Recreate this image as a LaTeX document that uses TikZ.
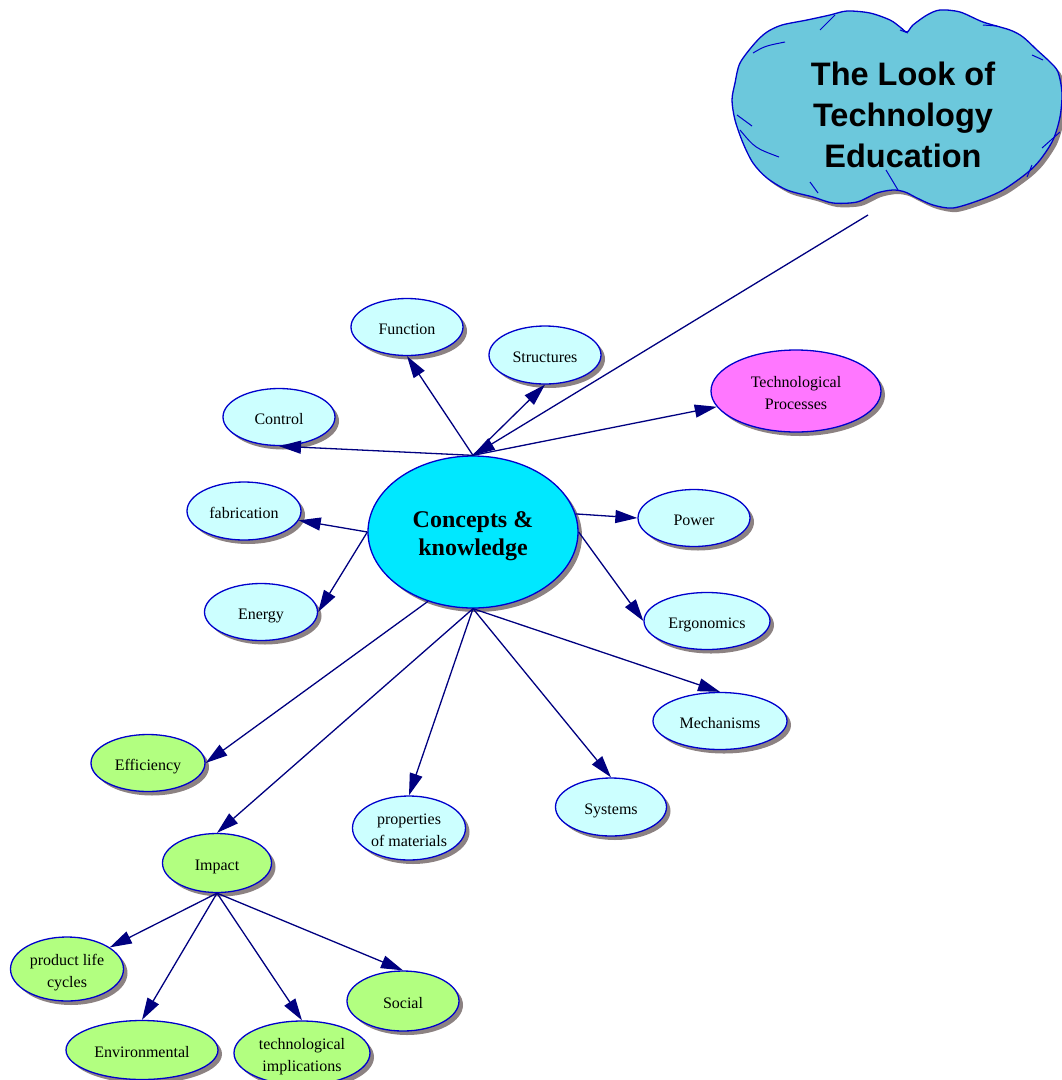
\documentclass[tikz,border=0pt]{standalone}
\usepackage{fontspec}
\setmainfont{Liberation Serif}
\newfontfamily\cloudfont{Liberation Sans}
\usetikzlibrary{shapes.geometric,arrows.meta,shadows}
\definecolor{edgec}{HTML}{000080}
\definecolor{bordc}{HTML}{0000CC}
\definecolor{lcyan}{HTML}{CCFFFF}
\definecolor{ccyan}{HTML}{00E8FF}
\definecolor{lgreen}{HTML}{B2FF80}
\definecolor{magc}{HTML}{FF77FF}
\definecolor{cloudc}{HTML}{6CC8DC}
\definecolor{shadc}{HTML}{8C8282}
\newcommand{\lwr}[2]{\raisebox{-#1}[\height][\depth]{\begin{tabular}{@{}c@{}}#2\end{tabular}}}
\tikzset{
  bub/.style={ellipse, draw=bordc, line width=1.3pt, inner sep=0pt, align=center,
    font=\fontsize{16}{22}\selectfont,
    drop shadow={shadow xshift=4pt, shadow yshift=-4pt, fill=shadc, opacity=1}},
  cy/.style={bub, fill=lcyan},
  gr/.style={bub, fill=lgreen},
  arr/.style={draw=edgec, line width=1.3pt, -{Triangle[length=22pt,width=13pt]}},
}
\begin{document}
\begin{tikzpicture}[x=1pt,y=-1pt]
\useasboundingbox (0,0) rectangle (1062,1080);
% cloud
\fill[shadc, shift={(4,4)}] plot[smooth cycle, tension=0.5] coordinates {
(735,83) (740,63) (755,43) (767,32) (782,25) (807,20) (830,15) (847,11) (870,13) (890,20) (900,27) (907,32) (913,25) (927,15) (940,10) (960,12) (983,22) (1010,30) (1023,37) (1037,50) (1050,62) (1058,72) (1062,93) (1060,117) (1053,140) (1040,160) (1027,173) (1003,190) (980,200) (953,208) (933,205) (917,198) (905,192) (893,190) (877,193) (857,202) (833,203) (813,197) (787,190) (767,178) (753,163) (743,143) (735,120) (732,100)};
\filldraw[fill=cloudc, draw=bordc, line width=1.3pt] plot[smooth cycle, tension=0.5] coordinates {
(735,83) (740,63) (755,43) (767,32) (782,25) (807,20) (830,15) (847,11) (870,13) (890,20) (900,27) (907,32) (913,25) (927,15) (940,10) (960,12) (983,22) (1010,30) (1023,37) (1037,50) (1050,62) (1058,72) (1062,93) (1060,117) (1053,140) (1040,160) (1027,173) (1003,190) (980,200) (953,208) (933,205) (917,198) (905,192) (893,190) (877,193) (857,202) (833,203) (813,197) (787,190) (767,178) (753,163) (743,143) (735,120) (732,100)};
\begin{scope}[draw=bordc, line width=1pt]
\draw (820,30) -- (835,15);
\draw (753,53) .. controls (765,46) .. (785,42);
\draw (737,115) -- (752,126);
\draw (740,130) .. controls (755,148) .. (779,157);
\draw (810,182) -- (818,193);
\draw (886,170) -- (898,190);
\draw (900,30) -- (908,33);
\draw (983,25) -- (997,26);
\draw (1032,55) -- (1043,60);
\draw (1042,148) -- (1060,132);
\draw (1027,177) -- (1032,165);
\end{scope}
\node[align=center, font=\cloudfont\bfseries\fontsize{32.5}{41}\selectfont] (cloud) at (903,115) {The Look of\\Technology\\Education};
\coordinate (cloudtail) at (868,215);
% nodes
\node[bub, fill=ccyan, minimum width=210pt, minimum height=152pt, font=\bfseries\fontsize{24}{28}\selectfont] (C) at (473,532) {\lwr{4pt}{Concepts \&\\knowledge}};
\node[cy, minimum width=112pt, minimum height=57pt] (func) at (407,327) {\lwr{3.5pt}{Function}};
\node[cy, minimum width=112pt, minimum height=58pt] (struc) at (545,355) {\lwr{3.5pt}{Structures}};
\node[bub, fill=magc, minimum width=170pt, minimum height=82pt] (tp) at (796,391) {\lwr{3.5pt}{Technological\\Processes}};
\node[cy, minimum width=112pt, minimum height=57pt] (ctrl) at (279,417) {\lwr{3.5pt}{Control}};
\node[cy, minimum width=114pt, minimum height=58pt] (fab) at (244,511) {\lwr{3.5pt}{fabrication}};
\node[cy, minimum width=112pt, minimum height=57pt] (power) at (694,518) {\lwr{3.5pt}{Power}};
\node[cy, minimum width=113pt, minimum height=57pt] (energy) at (261,612) {\lwr{3.5pt}{Energy}};
\node[cy, minimum width=126pt, minimum height=57pt] (ergo) at (707,621) {\lwr{3.5pt}{Ergonomics}};
\node[cy, minimum width=134pt, minimum height=57pt] (mech) at (720,721) {\lwr{3.5pt}{Mechanisms}};
\node[gr, minimum width=114pt, minimum height=57pt] (eff) at (148,763) {\lwr{3.5pt}{Efficiency}};
\node[cy, minimum width=111pt, minimum height=58pt] (sys) at (611,807) {\lwr{3.5pt}{Systems}};
\node[cy, minimum width=113pt, minimum height=64pt] (prop) at (409,828) {\lwr{3.5pt}{properties\\of materials}};
\node[gr, minimum width=109pt, minimum height=59pt] (imp) at (217,863) {\lwr{3.5pt}{Impact}};
\node[gr, minimum width=113pt, minimum height=64pt] (plc) at (67,969) {\lwr{3.5pt}{product life\\cycles}};
\node[gr, minimum width=112pt, minimum height=60pt] (soc) at (403,1001) {\lwr{3.5pt}{Social}};
\node[gr, minimum width=152pt, minimum height=59pt] (env) at (142,1050) {\lwr{3.5pt}{Environmental}};
\node[gr, minimum width=136pt, minimum height=64pt] (ti) at (302,1053) {\lwr{3.5pt}{technological\\implications}};
% edges
\draw[arr] (cloudtail) -- (C.north);
\draw[arr] (C.north) -- (func.south);
\draw[arr] (C.north) -- (struc.south);
\draw[arr] (C.north) -- (tp);
\draw[arr] (C.north) -- (ctrl.south);
\draw[arr] (C.west) -- (fab);
\draw[arr] (C.west) -- (energy.east);
\draw[arr] (C.10) -- (power.west);
\draw[arr] (C.east) -- (ergo.west);
\draw[arr] (C.south) -- (mech.north);
\draw[arr] (C.south) -- (sys.north);
\draw[arr] (C.south) -- (prop.north);
\draw[arr] (C.south) -- (imp.north);
\draw[arr] (C.237) -- (eff.east);
\draw[arr] (imp.south) -- (plc);
\draw[arr] (imp.south) -- (env.north);
\draw[arr] (imp.south) -- (ti.north);
\draw[arr] (imp.south) -- (soc.north);
\end{tikzpicture}
\end{document}
